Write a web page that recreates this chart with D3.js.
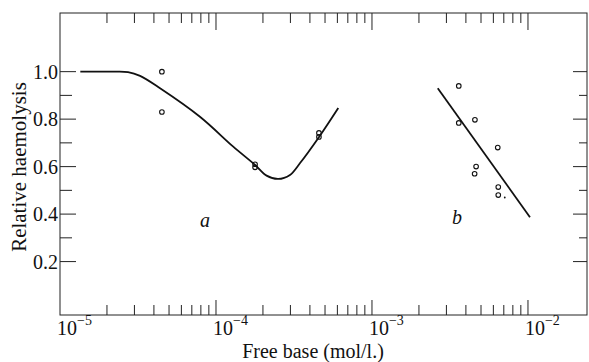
<!DOCTYPE html>
<html>
<head>
<meta charset="utf-8">
<script src="https://cdn.jsdelivr.net/npm/d3@7"></script>
<style>
  body { margin: 0; background: #fff; }
  text { font-family: "Liberation Serif", "DejaVu Serif", serif; fill: #111; }
</style>
</head>
<body>
<svg id="chart"></svg>
<script>
// curve a: fitted line through first set
let curveA = [
  [1.35e-5, 1.0], [2.2e-5, 1.0], [2.73e-5, 0.998], [3.26e-5, 0.982], [4.38e-5, 0.93],
  [7.89e-5, 0.81], [1.29e-4, 0.684], [1.78e-4, 0.607], [2.11e-4, 0.562],
  [2.5e-4, 0.548], [2.98e-4, 0.565], [3.45e-4, 0.614], [4.59e-4, 0.726],
  [6.08e-4, 0.847]
];
let pointsA = [
  [4.5e-5, 1.0], [4.5e-5, 0.83], [1.78e-4, 0.61], [1.78e-4, 0.597],
  [4.57e-4, 0.742], [4.57e-4, 0.725]
];
// line b
let lineB = [[2.64e-3, 0.93], [1.03e-2, 0.387]];
let pointsB = [
  [3.6e-3, 0.94], [3.6e-3, 0.784], [4.57e-3, 0.797], [6.4e-3, 0.68],
  [4.65e-3, 0.60], [4.55e-3, 0.57], [6.45e-3, 0.514], [6.45e-3, 0.48]
];
let dotsB = [[7.1e-3, 0.47]];
let yMajor = [0.2, 0.4, 0.6, 0.8, 1.0];
let yMinor = [0.3, 0.5, 0.7, 0.9];
let xDecades = [-5, -4, -3, -2];

let W = 589, H = 362;
let L = 60, R = 587, T = 13, B = 315;

let svg = d3.select('#chart').attr('width', W).attr('height', H);

let scX = d3.scaleLog().domain([1e-5, 0.0239]).range([L, R]);
let scY = d3.scaleLinear().domain([-0.025, 1.247]).range([B, T]);

// frame
svg.append('rect')
  .attr('x', L).attr('y', T).attr('width', R - L).attr('height', B - T)
  .attr('fill', 'none').attr('stroke', '#222').attr('stroke-width', 1);

// x ticks (log minor), top and bottom, pointing inward
let xTicks = [];
for (let e = -5; e <= -2; e++) {
  for (let m = 1; m <= 9; m++) {
    let v = m * Math.pow(10, e);
    if (v < 2e-5 || v > 1.001e-2) continue;
    xTicks.push({v: v, major: m === 1});
  }
}
let tk = svg.append('g').attr('stroke', '#222').attr('stroke-width', 1);
tk.selectAll('line.xb').data(xTicks).enter().append('line')
  .attr('x1', d => scX(d.v)).attr('x2', d => scX(d.v))
  .attr('y1', B).attr('y2', d => B - (d.major ? 15 : 10));
tk.selectAll('line.xt').data(xTicks).enter().append('line')
  .attr('x1', d => scX(d.v)).attr('x2', d => scX(d.v))
  .attr('y1', T).attr('y2', d => T + (d.major ? 17 : 10));

// y ticks both sides
let yTicks = yMajor.map(v => ({v: v, major: true}))
  .concat(yMinor.map(v => ({v: v, major: false})));
tk.selectAll('line.yl').data(yTicks).enter().append('line')
  .attr('x1', L).attr('x2', d => L + (d.major ? 16 : 12))
  .attr('y1', d => scY(d.v)).attr('y2', d => scY(d.v));
tk.selectAll('line.yr').data(yTicks).enter().append('line')
  .attr('x1', R).attr('x2', d => R - (d.major ? 14 : 8))
  .attr('y1', d => scY(d.v)).attr('y2', d => scY(d.v));

// y tick labels
svg.selectAll('text.yl').data(yMajor).enter().append('text')
  .attr('x', L - 2).attr('y', d => scY(d) + 7)
  .attr('text-anchor', 'end').attr('font-size', 20)
  .text(d => d.toFixed(1));

// x tick labels 10^e
let xl = svg.selectAll('text.xl').data(xDecades).enter().append('text')
  .attr('x', d => scX(Math.pow(10, d)) - 3).attr('y', 335)
  .attr('font-size', 20);
xl.append('tspan').text('10');
xl.append('tspan').attr('dy', -10).attr('font-size', 14).text(d => '\u2212' + (-d));

// axis titles
svg.append('text')
  .attr('x', 313).attr('y', 358).attr('text-anchor', 'middle')
  .attr('font-size', 20).text('Free base (mol/l.)');
svg.append('text')
  .attr('transform', 'translate(26,167) rotate(-90)')
  .attr('text-anchor', 'middle').attr('font-size', 21)
  .text('Relative haemolysis');

// curves
let line = d3.line().x(d => scX(d[0])).y(d => scY(d[1])).curve(d3.curveCatmullRom.alpha(0.5));
svg.append('path').datum(curveA).attr('d', line)
  .attr('fill', 'none').attr('stroke', '#111').attr('stroke-width', 1.8);
svg.append('path').datum(lineB).attr('d', d3.line().x(d => scX(d[0])).y(d => scY(d[1])))
  .attr('fill', 'none').attr('stroke', '#111').attr('stroke-width', 1.8);

// points
svg.selectAll('circle.p').data(pointsA.concat(pointsB)).enter().append('circle')
  .attr('cx', d => scX(d[0])).attr('cy', d => scY(d[1])).attr('r', 2.3)
  .attr('fill', 'none').attr('stroke', '#111').attr('stroke-width', 1.1);
svg.selectAll('circle.d').data(dotsB).enter().append('circle')
  .attr('cx', d => scX(d[0])).attr('cy', d => scY(d[1])).attr('r', 0.9)
  .attr('fill', '#111');

// curve labels
svg.append('text').attr('x', 205).attr('y', 227).attr('text-anchor', 'middle')
  .attr('font-size', 20).attr('font-style', 'italic').text('a');
svg.append('text').attr('x', 457).attr('y', 224).attr('text-anchor', 'middle')
  .attr('font-size', 20).attr('font-style', 'italic').text('b');
</script>
</body>
</html>
